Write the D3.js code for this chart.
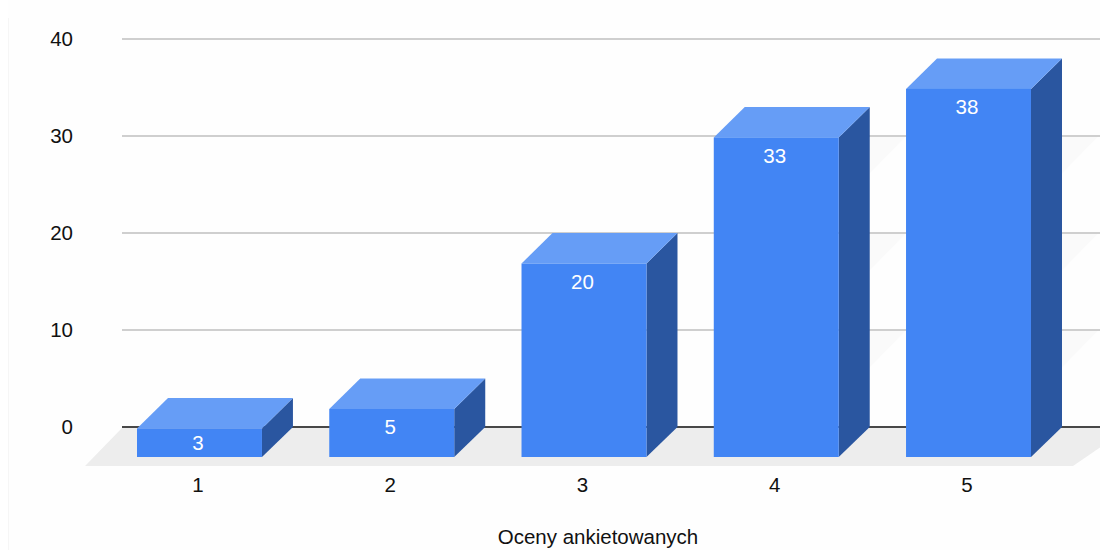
<!DOCTYPE html>
<html lang="pl">
<head>
<meta charset="utf-8">
<title>Oceny ankietowanych</title>
<script src="https://cdn.jsdelivr.net/npm/d3@7"></script>
<style>
  html, body { margin: 0; padding: 0; background: #fff; }
  svg { display: block; }
  text { font-family: "Liberation Sans", Arial, sans-serif; }
  .domain { display: none; }
</style>
</head>
<body>
<svg id="chart" width="1100" height="550"></svg>
<script>
// Survey results: number of respondents per rating
const categories = ["1", "2", "3", "4", "5"];
const counts = [3, 5, 20, 33, 38];
const yTicks = [0, 10, 20, 30, 40];
const axisTitle = "Oceny ankietowanych";

const width = 1100, height = 550;
const depthX = 31, depthY = 30.5;      // oblique offset of the bar depth
const floorX = 38, floorY = 39;        // oblique offset of the floor plane
const plotLeft = 122;
const fontSize = 20.5;

const colors = { front: "#4285f4", top: "#669df6", side: "#2a56a0",
                 grid: "#cfcfcf", zero: "#484848", floor: "#ededed",
                 wall: "#fafafa", text: "#111111" };

const svg = d3.select("#chart");
const x = d3.scaleBand().domain(categories).range([137, 1031]).paddingInner(0.35).paddingOuter(0);
const y = d3.scaleLinear().domain([0, 40]).range([427, 39]);
const poly = pts => pts.map(p => p.join(",")).join(" ");

// Page backdrop with its thin left edge
svg.append("rect").attr("x", 8).attr("width", width - 8).attr("height", height).attr("fill", "#fefefe");
svg.append("line").attr("x1", 8.5).attr("x2", 8.5).attr("y1", 18).attr("y2", height)
  .attr("stroke", "#f6f6f6");

// Floor plane below the zero line
const y0 = y(0);
svg.append("polygon").attr("fill", colors.floor).attr("points", poly([
  [plotLeft + 1, y0], [width + 30, y0],
  [width + 30 - floorX - 19, y0 + floorY], [plotLeft + 1 - floorX, y0 + floorY]
]));

// Faint oblique wedges under the upper gridlines, right of the fourth bar only
const wedgeRows = yTicks.filter(t => t > 0 && t < 40);
const wedgeEdges = [x(categories[4]), x(categories[4]) + x.step()];
svg.append("g").selectAll("g").data(wedgeRows).join("g").selectAll("polygon")
  .data(t => wedgeEdges.map(e => [t, e])).join("polygon")
  .attr("fill", colors.wall)
  .attr("points", ([t, e]) => poly([
    [e, y(t)], [e - floorX, y(t) + floorY], [e - floorX, y(t)]
  ]));

// Gridlines, then the darker zero line
svg.append("g").selectAll("line").data(yTicks.filter(t => t > 0)).join("line")
  .attr("x1", plotLeft).attr("x2", width)
  .attr("y1", d => y(d)).attr("y2", d => y(d))
  .attr("stroke", colors.grid).attr("stroke-width", 2);
svg.append("line").attr("x1", plotLeft).attr("x2", width)
  .attr("y1", y0).attr("y2", y0)
  .attr("stroke", colors.zero).attr("stroke-width", 2);

// Value axis labels
svg.append("g").attr("transform", `translate(${plotLeft},0)`)
  .call(d3.axisLeft(y).tickValues(yTicks).tickSize(0).tickPadding(49))
  .call(g => g.selectAll("text").attr("font-size", fontSize).attr("fill", colors.text)
    .attr("font-family", "'Liberation Sans', Arial, sans-serif"));

// Rating axis labels
svg.append("g").attr("transform", "translate(-1.5,477)")
  .call(d3.axisBottom(x).tickSize(0).tickPadding(0))
  .call(g => g.selectAll("text").attr("font-size", fontSize).attr("fill", colors.text)
    .attr("font-family", "'Liberation Sans', Arial, sans-serif"));

// Three-sided bars: each front face ends at the shared baseline in front of the floor
const bars = svg.append("g").selectAll("g").data(categories.map((c, i) => ({ c, v: counts[i] })))
  .join("g");

const frontBottom = y0 + depthY - 0.5;
bars.append("polygon").attr("fill", colors.side).attr("points", d => {
  const r = x(d.c) + x.bandwidth(), t = y(d.v) + depthY;
  return poly([[r, t], [r + depthX, y(d.v)], [r + depthX, y0], [r, frontBottom]]);
});
bars.append("polygon").attr("fill", colors.top).attr("points", d => {
  const l = x(d.c), r = l + x.bandwidth(), t = y(d.v) + depthY;
  return poly([[l, t], [l + depthX, y(d.v)], [r + depthX, y(d.v)], [r, t]]);
});
bars.append("rect").attr("fill", colors.front)
  .attr("x", d => x(d.c)).attr("width", x.bandwidth())
  .attr("y", d => y(d.v) + depthY)
  .attr("height", d => frontBottom - y(d.v) - depthY);

// Value labels near the top of each front face, centred when the face is short
bars.append("text").attr("fill", "#fff").attr("font-size", fontSize).attr("text-anchor", "middle")
  .attr("x", d => x(d.c) + x.bandwidth() / 2 - 1.5)
  .attr("y", d => {
    const t = y(d.v) + depthY;
    return Math.min(t + 18, (t + frontBottom) / 2);
  })
  .attr("dy", "0.35em")
  .text(d => d.v);

// Axis title
svg.append("text").attr("x", 598).attr("y", 544).attr("text-anchor", "middle")
  .attr("font-size", fontSize).attr("fill", colors.text).text(axisTitle);
</script>
</body>
</html>
